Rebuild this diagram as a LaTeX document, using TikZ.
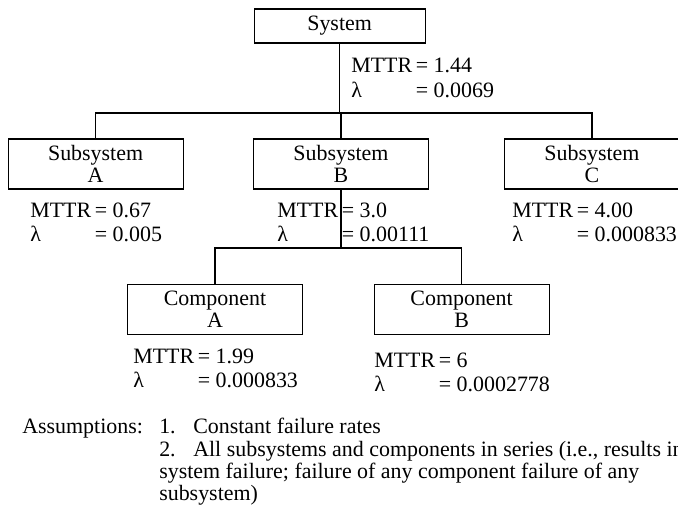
\documentclass[tikz,border=0pt]{standalone}
\usepackage{fontspec}
\setmainfont{Liberation Serif}
\usetikzlibrary{positioning}

\tikzset{
  unit/.style={draw, line width=0.8pt, align=center, inner sep=0pt,
    minimum width=4.375cm, minimum height=1.25cm,
    font=\fontsize{15.6}{15.5}\selectfont},
  figs/.style={anchor=base west, inner sep=0pt,
    font=\fontsize{15.6}{17.5}\selectfont},
  note/.style={anchor=base west, inner sep=0pt,
    font=\fontsize{15.6}{16}\selectfont},
  link/.style={line width=0.8pt}
}

\newcommand{\relval}[2]{\begin{tabular}[t]{@{}l@{\,}l@{}}MTTR & = #1\\ λ & = #2\end{tabular}}

\begin{document}
\begin{tikzpicture}
\useasboundingbox (0,0) rectangle (16.95,12.95);

% top level
\node[unit, minimum width=4.275cm, minimum height=0.85cm] (sys) at (8.49,12.3) {System};
\node[figs] (sysval) at (8.775,11.125) {\relval{1.44}{0.0069}};

% subsystems
\node[unit] (subA) at (2.39,8.85) {Subsystem\\A};
\node[unit] (subB) at (8.525,8.85) {Subsystem\\B};
\node[unit] (subC) at (14.8,8.85) {Subsystem\\C};
\node[figs] (subAval) at (0.75,7.525) {\relval{0.67}{0.005}};
\node[figs] (subBval) at (6.925,7.525) {\relval{3.0}{0.00111}};
\node[figs] (subCval) at (12.8,7.525) {\relval{4.00}{0.000833}};

% components under subsystem B
\node[unit] (compA) at (5.375,5.2125) {Component\\A};
\node[unit] (compB) at (11.54,5.2125) {Component\\B};
\node[figs] (compAval) at (3.325,3.875) {\relval{1.99}{0.000833}};
\node[figs] (compBval) at (9.35,3.775) {\relval{6}{0.0002778}};

% tree lines
\coordinate (bus1) at (sys.south |- 0,10.125);
\coordinate (bus2) at (subB.south |- 0,6.75);
\draw[link] (sys.south) -- (bus1);
\draw[link] (subA.north) |- (bus1) -| (subC.north);
\draw[link] (bus1) -| (subB.north);
\draw[link] (subB.south) -- (bus2);
\draw[link] (compA.north) |- (bus2) -| (compB.north);

% assumptions
\node[note] (asm) at (0.55,2.125) {Assumptions:};
\node[note] (asm1) at (3.975,2.125) {1.};
\node[note] (asm1txt) at (4.825,2.125) {Constant failure rates};
\node[note] (asm2) at (3.975,1.55) {2.};
\node[note] (asm2txt) at (4.825,1.55) {All subsystems and components in series (i.e., results in};
\node[note] (asm2more) at (3.975,1.0) {system failure; failure of any component failure of any};
\node[note] (asm2end) at (3.975,0.45) {subsystem)};
\end{tikzpicture}
\end{document}
